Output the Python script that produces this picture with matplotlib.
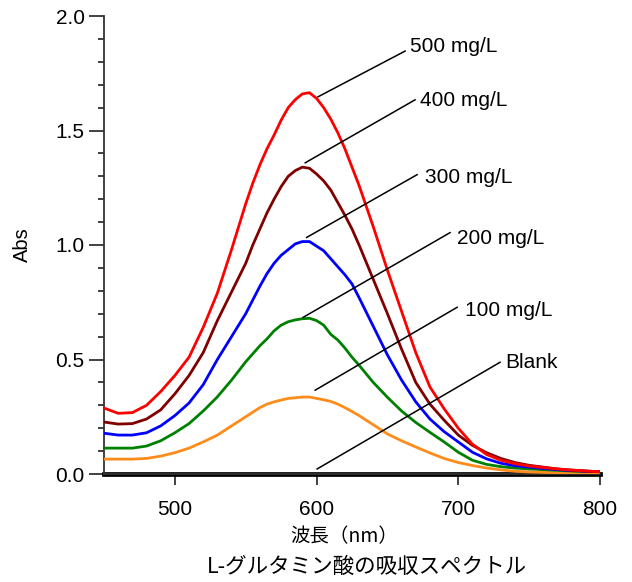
import matplotlib
matplotlib.use("Agg")
import matplotlib.pyplot as plt
from matplotlib.ticker import MultipleLocator, FormatStrFormatter

plt.rcParams['font.family'] = ['Liberation Sans', 'Noto Sans CJK JP', 'DejaVu Sans']

wavelength = [450, 460, 470, 480, 490, 500, 510, 520, 530, 540, 550,
              555, 560, 565, 570, 575, 580, 585, 590, 595, 600, 605, 610, 615, 620, 625,
              630, 640, 650, 660, 670, 680, 690, 700, 710, 720, 730, 740,
              750, 760, 770, 780, 790, 800]

abs_500 = [0.288, 0.265, 0.268, 0.30, 0.36, 0.43, 0.51, 0.64, 0.79, 0.98, 1.18,
           1.27, 1.35, 1.42, 1.48, 1.545, 1.60, 1.635, 1.66, 1.665, 1.64, 1.60, 1.55, 1.49, 1.42, 1.34,
           1.26, 1.08, 0.89, 0.71, 0.53, 0.38, 0.285, 0.20, 0.13, 0.085, 0.06, 0.045,
           0.035, 0.028, 0.022, 0.017, 0.013, 0.01]
abs_400 = [0.227, 0.218, 0.22, 0.24, 0.28, 0.35, 0.43, 0.53, 0.67, 0.795, 0.92,
           1.0, 1.07, 1.14, 1.20, 1.255, 1.30, 1.325, 1.34, 1.335, 1.31, 1.28, 1.24, 1.185, 1.13, 1.07,
           1.00, 0.85, 0.70, 0.545, 0.40, 0.305, 0.235, 0.17, 0.125, 0.093, 0.068, 0.05,
           0.038, 0.03, 0.022, 0.017, 0.013, 0.01]
abs_300 = [0.178, 0.17, 0.17, 0.18, 0.21, 0.255, 0.31, 0.39, 0.50, 0.60, 0.70,
           0.76, 0.82, 0.875, 0.92, 0.955, 0.98, 1.005, 1.015, 1.015, 0.995, 0.975, 0.94, 0.905, 0.87, 0.83,
           0.77, 0.645, 0.52, 0.41, 0.315, 0.24, 0.185, 0.14, 0.095, 0.066, 0.047, 0.036,
           0.03, 0.024, 0.019, 0.015, 0.012, 0.01]
abs_200 = [0.113, 0.113, 0.113, 0.122, 0.145, 0.18, 0.22, 0.275, 0.337, 0.41, 0.49,
           0.525, 0.56, 0.59, 0.625, 0.65, 0.665, 0.673, 0.678, 0.68, 0.67, 0.65, 0.61, 0.585, 0.55, 0.51,
           0.475, 0.40, 0.335, 0.275, 0.225, 0.182, 0.14, 0.095, 0.06, 0.042, 0.032, 0.026,
           0.022, 0.019, 0.016, 0.013, 0.011, 0.01]
abs_100 = [0.065, 0.065, 0.065, 0.068, 0.078, 0.093, 0.113, 0.14, 0.17, 0.21, 0.25,
           0.27, 0.29, 0.305, 0.315, 0.323, 0.33, 0.333, 0.336, 0.336, 0.33, 0.324, 0.317, 0.305, 0.29, 0.273,
           0.255, 0.215, 0.175, 0.145, 0.118, 0.092, 0.068, 0.05, 0.037, 0.026, 0.018, 0.012,
           0.009, 0.007, 0.006, 0.005, 0.004, 0.004]
abs_blank = [0.0] * len(wavelength)

series_labels = ["500 mg/L", "400 mg/L", "300 mg/L", "200 mg/L", "100 mg/L", "Blank"]
series_colors = ["#ff0000", "#800000", "#0000ff", "#008000", "#ff8c1a", "#000000"]
series_values = [abs_500, abs_400, abs_300, abs_200, abs_100, abs_blank]

# annotation leader lines: (start on curve) -> (end near label), label anchor
leader_start = [(601, 1.647), (592, 1.359), (593, 1.033), (590.5, 0.684), (599, 0.366), (600.4, 0.022)]
leader_end = [(662.5, 1.847), (669.5, 1.634), (670.9, 1.307), (694.2, 1.054), (699.2, 0.728), (729.5, 0.488)]
label_pos = [(666, 1.865), (673, 1.63), (676.6, 1.294), (699.2, 1.028), (704.8, 0.715), (733, 0.488)]

fig = plt.figure(figsize=(6.32, 5.82), dpi=100)
ax = fig.add_axes([104/632, 1 - 474/582, 496/632, 458/582])

ax.plot(wavelength, abs_blank, color="#000000", lw=3.4, clip_on=False, zorder=2)
for vals, col in zip(series_values[:-1][::-1], series_colors[:-1][::-1]):
    ax.plot(wavelength, vals, color=col, lw=2.0, zorder=3)

for (x0, y0), (x1, y1), (tx, ty), lab in zip(leader_start, leader_end, label_pos, series_labels):
    ax.plot([x0, x1], [y0, y1], color="black", lw=1.1, zorder=4, clip_on=False)
    ax.text(tx, ty, lab, fontsize=15, ha='left', va='center')

ax.set_xlim(450, 800)
ax.set_ylim(0, 2.0)
ax.xaxis.set_major_locator(MultipleLocator(100))
ax.yaxis.set_major_locator(MultipleLocator(0.5))
ax.yaxis.set_minor_locator(MultipleLocator(0.1))
ax.yaxis.set_major_formatter(FormatStrFormatter('%.1f'))
ax.spines['top'].set_visible(False)
ax.spines['right'].set_visible(False)
for s in ('left', 'bottom'):
    ax.spines[s].set_linewidth(1.3)
    ax.spines[s].set_color('#333333')
ax.tick_params(axis='y', which='major', direction='out', length=11, width=1.3, labelsize=15, pad=3, color='#333333')
ax.tick_params(axis='y', which='minor', direction='out', length=4.5, width=1.3, color='#333333')
ax.tick_params(axis='x', which='major', direction='out', length=8, width=1.3, labelsize=15, pad=11, color='#333333')

fig.text(22/632, 1 - 245/582, "Abs", rotation=90, ha='center', va='center', fontsize=14.5)
fig.text(344/632, 1 - 537/582, "波長（nm）", ha='center', va='center', fontsize=14,
         family=['Noto Sans CJK JP', 'DejaVu Sans'])
fig.text(367/632, 1 - 567/582, "L-グルタミン酸の吸収スペクトル", ha='center', va='center', fontsize=15.5,
         family=['Noto Sans CJK JP', 'DejaVu Sans'])

fig.savefig("out.png", dpi=100)
